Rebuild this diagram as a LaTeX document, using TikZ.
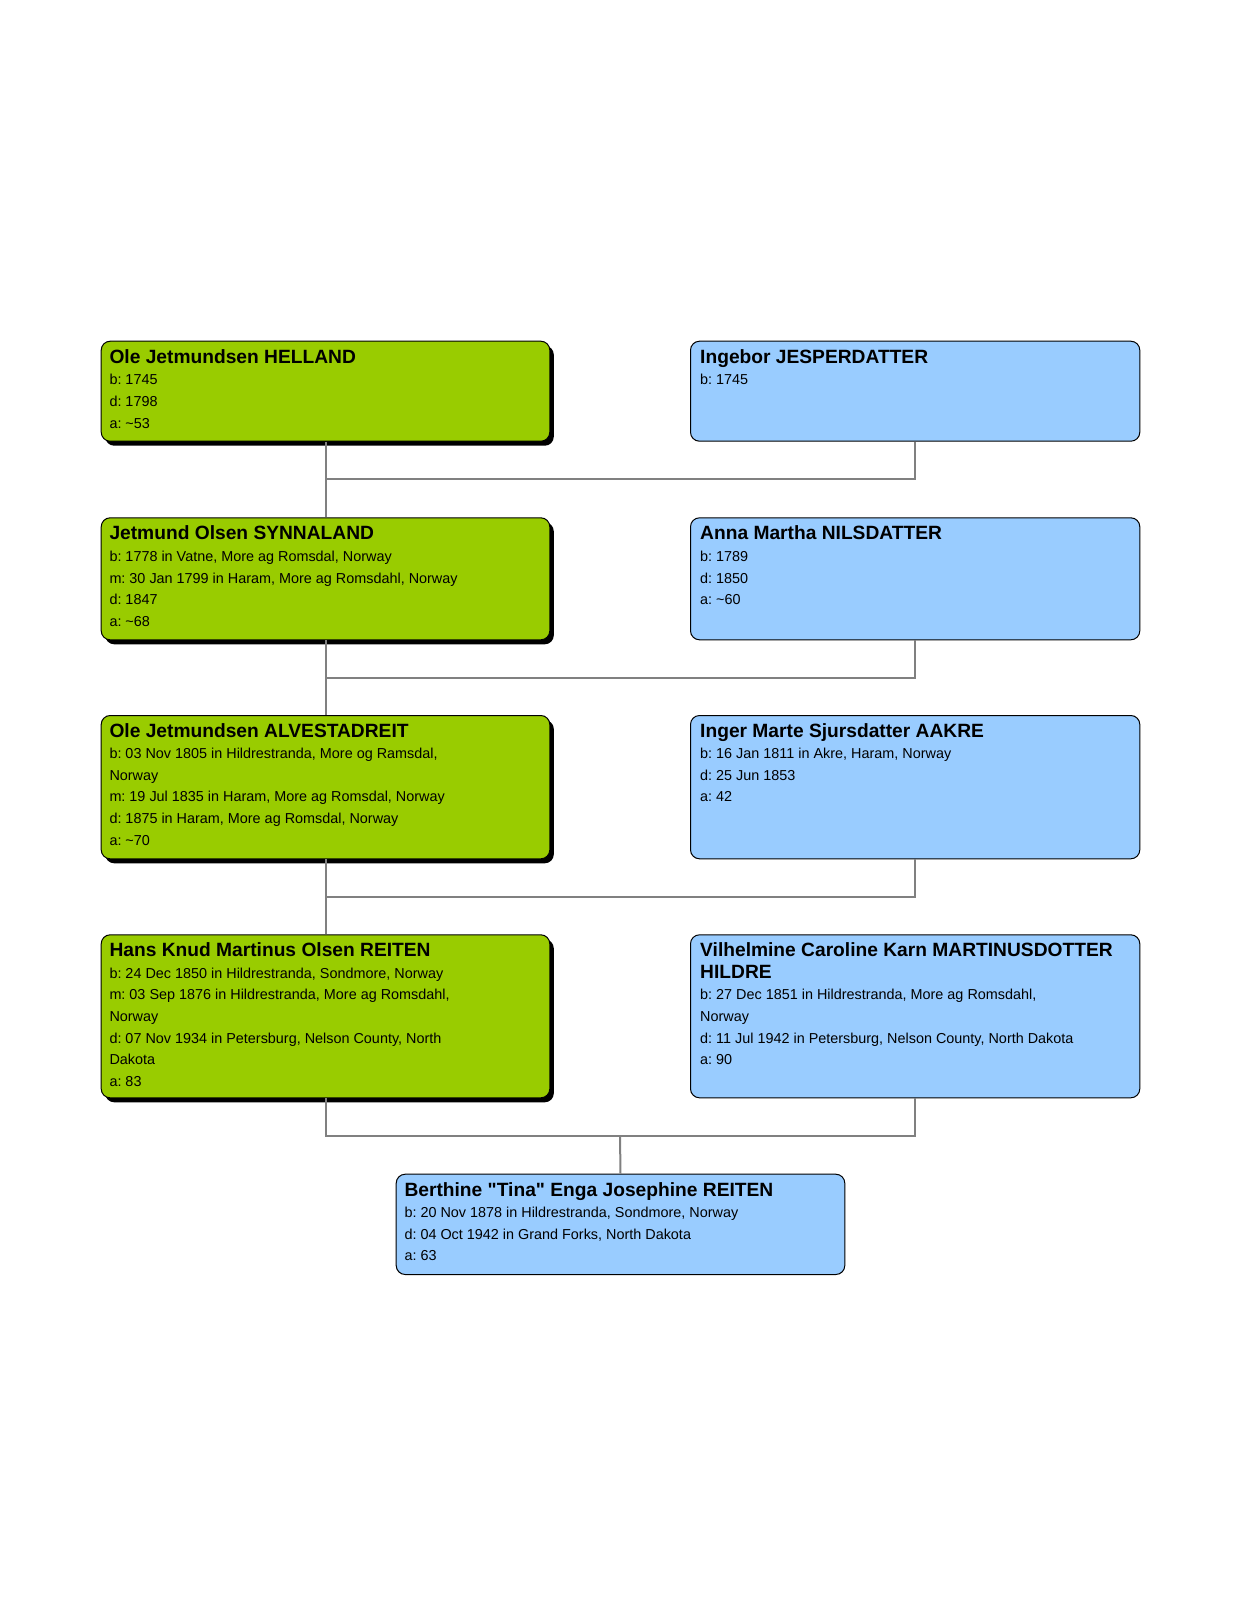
\documentclass[tikz,border=0pt]{standalone}
\usepackage{fontspec}
\setmainfont{Liberation Sans}[Ligatures=TeXOff]
\usetikzlibrary{shadows}
\definecolor{gfill}{RGB}{153,204,0}
\definecolor{bfill}{RGB}{153,204,255}
\definecolor{lgray}{RGB}{128,128,128}
\newcommand{\ttl}[1]{{\bfseries\fontsize{19.2}{21.6}\selectfont #1}}
\newcommand{\dq}{\symbol{34}}
\newenvironment{pinfo}{\begin{minipage}[t]{430pt}\raggedright\frenchspacing\lineskiplimit=-20pt\fontsize{14.4}{21.6}\selectfont}{\end{minipage}}
\begin{document}
\begin{tikzpicture}[x=1pt,y=-1pt,
  pbox/.style={draw=black,line width=1pt,rounded corners=9pt,inner sep=0pt,anchor=north west,minimum width=448.6pt},
  gbox/.style={pbox,fill=gfill,drop shadow={shadow xshift=4pt,shadow yshift=-4.5pt,opacity=1,fill=black}},
  bbox/.style={pbox,fill=bfill},
  txt/.style={inner sep=0pt,anchor=base west,text=black},
  conn/.style={draw=lgray,line width=2pt}]
\useasboundingbox[fill=white] (0,0) rectangle (1239,1614);
% boxes
\node[gbox,minimum height=100pt] (p1) at (100.7,340.7) {};
\node[bbox,minimum height=100pt,minimum width=449.3pt] (p2) at (690,340.7) {};
\node[gbox,minimum height=122pt] (p3) at (100.7,517.3) {};
\node[bbox,minimum height=122pt,minimum width=449.3pt] (p4) at (690,517.3) {};
\node[gbox,minimum height=143.3pt] (p5) at (100.7,715) {};
\node[bbox,minimum height=143.3pt,minimum width=449.3pt] (p6) at (690,715) {};
\node[gbox,minimum height=163pt] (p7) at (100.7,934.3) {};
\node[bbox,minimum height=163pt,minimum width=449.3pt] (p8) at (690,934.3) {};
\node[bbox,minimum height=100.3pt] (c) at (395.7,1173.7) {};
% texts
\node[txt] (t1) at ([shift={(8.6,22.6)}]p1.north west) {\begin{pinfo}\ttl{Ole Jetmundsen HELLAND}\\b: 1745\\d: 1798\\a: \textasciitilde53\end{pinfo}};
\node[txt] (t2) at ([shift={(10,22.6)}]p2.north west) {\begin{pinfo}\ttl{Ingebor JESPERDATTER}\\b: 1745\end{pinfo}};
\node[txt] (t3) at ([shift={(8.6,22.6)}]p3.north west) {\begin{pinfo}\ttl{Jetmund Olsen SYNNALAND}\\b: 1778 in Vatne, More ag Romsdal, Norway\\m: 30 Jan 1799 in Haram, More ag Romsdahl, Norway\\d: 1847\\a: \textasciitilde68\end{pinfo}};
\node[txt] (t4) at ([shift={(10,22.6)}]p4.north west) {\begin{pinfo}\ttl{Anna Martha NILSDATTER}\\b: 1789\\d: 1850\\a: \textasciitilde60\end{pinfo}};
\node[txt] (t5) at ([shift={(8.6,22)}]p5.north west) {\begin{pinfo}\ttl{Ole Jetmundsen ALVESTADREIT}\\b: 03 Nov 1805 in Hildrestranda, More og Ramsdal,\\Norway\\m: 19 Jul 1835 in Haram, More ag Romsdal, Norway\\d: 1875 in Haram, More ag Romsdal, Norway\\a: \textasciitilde70\end{pinfo}};
\node[txt] (t6) at ([shift={(10,22)}]p6.north west) {\begin{pinfo}\ttl{Inger Marte Sjursdatter AAKRE}\\b: 16 Jan 1811 in Akre, Haram, Norway\\d: 25 Jun 1853\\a: 42\end{pinfo}};
\node[txt] (t7) at ([shift={(8.6,22.4)}]p7.north west) {\begin{pinfo}\ttl{Hans Knud Martinus Olsen REITEN}\\b: 24 Dec 1850 in Hildrestranda, Sondmore, Norway\\m: 03 Sep 1876 in Hildrestranda, More ag Romsdahl,\\Norway\\d: 07 Nov 1934 in Petersburg, Nelson County, North\\Dakota\\a: 83\end{pinfo}};
\node[txt] (t8) at ([shift={(10,22.4)}]p8.north west) {\begin{pinfo}\ttl{Vilhelmine Caroline Karn MARTINUSDOTTER}\\\ttl{HILDRE}\\b: 27 Dec 1851 in Hildrestranda, More ag Romsdahl,\\Norway\\d: 11 Jul 1942 in Petersburg, Nelson County, North Dakota\\a: 90\end{pinfo}};
\node[txt] (tc) at ([shift={(8.6,22.4)}]c.north west) {\begin{pinfo}\ttl{Berthine \dq Tina\dq{} Enga Josephine REITEN}\\b: 20 Nov 1878 in Hildrestranda, Sondmore, Norway\\d: 04 Oct 1942 in Grand Forks, North Dakota\\a: 63\end{pinfo}};
% connectors
\coordinate (m1) at (325,479);
\coordinate (m2) at (325,677.7);
\coordinate (m3) at (325,896.7);
\coordinate (m4) at (620,1135.7);
\draw[conn] (p1.south) -- (p3.north);
\draw[conn] (m1) -| (p2.south);
\draw[conn] (p3.south) -- (p5.north);
\draw[conn] (m2) -| (p4.south);
\draw[conn] (p5.south) -- (p7.north);
\draw[conn] (m3) -| (p6.south);
\draw[conn] (p7.south) |- (m4) -| (p8.south);
\draw[conn] (m4) -- (c.north);
\end{tikzpicture}
\end{document}
